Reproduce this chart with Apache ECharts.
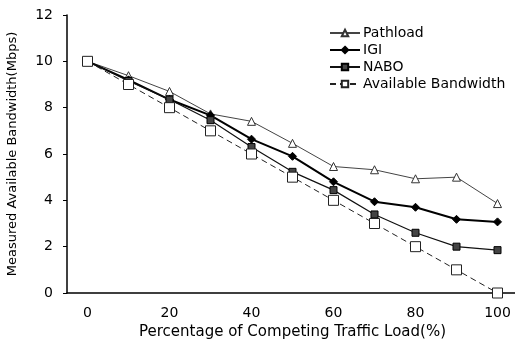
<!DOCTYPE html>
<html>
<head>
<meta charset="utf-8">
<script src="https://cdn.jsdelivr.net/npm/echarts@6/dist/echarts.min.js"></script>
<style>
  html, body { margin: 0; padding: 0; background: #fff; }
  #chart { width: 515px; height: 341px; }
</style>
</head>
<body>
<div id="chart"></div>
<script>
// datos
const cargas = ['0', '10', '20', '30', '40', '50', '60', '70', '80', '90', '100'];
const pathload = [10, 9.38, 8.7, 7.73, 7.41, 6.46, 5.46, 5.32, 4.93, 5.0, 3.86];
const igi = [10, 9.2, 8.35, 7.67, 6.64, 5.9, 4.8, 3.94, 3.7, 3.18, 3.07];
const nabo = [10, 9.15, 8.35, 7.46, 6.3, 5.23, 4.44, 3.39, 2.6, 2.0, 1.85];
const disponible = [10, 9, 8, 7, 6, 5, 4, 3, 2, 1, 0];
const ticksY = [0, 2, 4, 6, 8, 10, 12];

const fuente = 'DejaVu Sans';

const chart = echarts.init(document.getElementById('chart'), null, { renderer: 'canvas' });

const option = {
  animation: false,
  backgroundColor: '#fff',
  textStyle: { fontFamily: fuente, color: '#000' },
  grid: {
    left: 67,
    top: 15,
    width: 451,
    height: 278,
    outerBoundsMode: 'none'
  },
  legend: {
    orient: 'vertical',
    left: 324,
    top: 21,
    itemWidth: 30,
    itemHeight: 8,
    itemGap: 3,
    textStyle: { fontFamily: fuente, fontSize: 14, color: '#000', padding: [0, 0, 0, -2] },
    data: ['Pathload', 'IGI', 'NABO', 'Available Bandwidth']
  },
  xAxis: {
    type: 'category',
    data: cargas,
    boundaryGap: true,
    name: 'Percentage of Competing Traffic Load(%)',
    nameLocation: 'middle',
    nameGap: 32,
    nameTextStyle: { fontFamily: fuente, fontSize: 15, color: '#000' },
    axisLine: { lineStyle: { color: '#000', width: 1.5 } },
    axisTick: { inside: true, length: 4, interval: 0, lineStyle: { color: '#000' } },
    axisLabel: { interval: 1, margin: 13, fontSize: 14, color: '#000', fontFamily: fuente }
  },
  yAxis: {
    type: 'value',
    min: ticksY[0],
    max: ticksY[ticksY.length - 1],
    interval: 2,
    name: 'Measured Available Bandwidth(Mbps)',
    nameLocation: 'middle',
    nameGap: 48,
    nameTextStyle: { fontFamily: fuente, fontSize: 13, color: '#000' },
    splitLine: { show: false },
    axisLine: { show: true, lineStyle: { color: '#000', width: 1.5 } },
    axisTick: { show: true, length: 4, lineStyle: { color: '#000' } },
    axisLabel: { margin: 14, fontSize: 14, color: '#000', fontFamily: fuente }
  },
  series: [
    {
      name: 'Pathload',
      type: 'line',
      data: pathload,
      symbol: 'triangle',
      symbolSize: 8,
      lineStyle: { color: '#444', width: 1 },
      itemStyle: { color: '#fff', borderColor: '#333', borderWidth: 1 }
    },
    {
      name: 'IGI',
      type: 'line',
      data: igi,
      symbol: 'diamond',
      symbolSize: 8,
      lineStyle: { color: '#000', width: 2 },
      itemStyle: { color: '#000', borderColor: '#000', borderWidth: 1 }
    },
    {
      name: 'NABO',
      type: 'line',
      data: nabo,
      symbol: 'rect',
      symbolSize: 7,
      lineStyle: { color: '#111', width: 1.2 },
      itemStyle: { color: '#444', borderColor: '#000', borderWidth: 1 }
    },
    {
      name: 'Available Bandwidth',
      type: 'line',
      data: disponible,
      symbol: 'rect',
      symbolSize: 10,
      lineStyle: { color: '#222', width: 1, type: [6, 4] },
      itemStyle: { color: '#fff', borderColor: '#222', borderWidth: 1 }
    }
  ]
};

chart.setOption(option);

window.addEventListener('resize', function() {
  chart.resize();
});
</script>
</body>
</html>
